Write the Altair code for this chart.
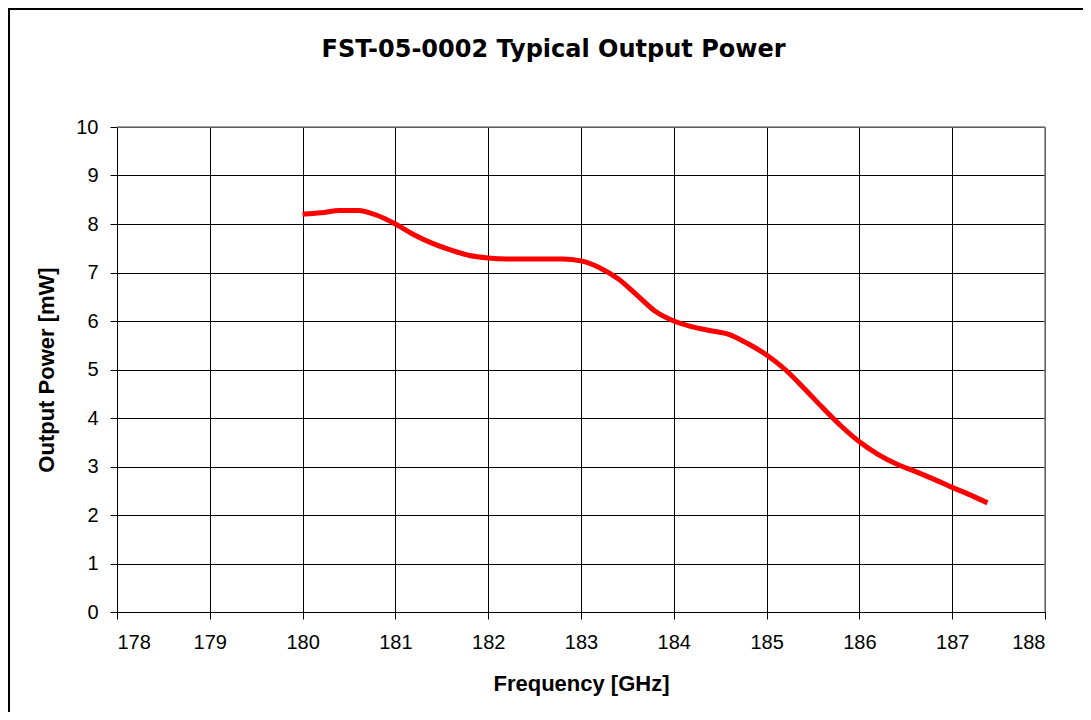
import altair as alt
import pandas as pd

# ---- data ----
FREQ_GHZ = [180.0, 180.2, 180.4, 180.6, 180.8, 181.0, 181.2, 181.4, 181.6, 181.8,
            182.0, 182.2, 182.4, 182.6, 182.8, 183.0, 183.2, 183.4, 183.6, 183.8,
            184.0, 184.2, 184.4, 184.6, 184.8, 185.0, 185.2, 185.4, 185.6, 185.8,
            186.0, 186.2, 186.4, 186.6, 186.8, 187.0, 187.2, 187.38]
POWER_MW = [8.20, 8.23, 8.28, 8.28, 8.18, 8.00, 7.78, 7.60, 7.46, 7.35,
            7.30, 7.28, 7.28, 7.28, 7.28, 7.24, 7.10, 6.87, 6.54, 6.20,
            6.00, 5.88, 5.80, 5.72, 5.53, 5.30, 5.00, 4.62, 4.22, 3.84,
            3.51, 3.25, 3.05, 2.90, 2.74, 2.57, 2.41, 2.25]

X_TICKS = [178, 179, 180, 181, 182, 183, 184, 185, 186, 187, 188]
Y_TICKS = [0, 1, 2, 3, 4, 5, 6, 7, 8, 9, 10]
TOP_BORDER = [10]
RIGHT_BORDER = [188]

TITLE = "FST-05-0002 Typical Output Power"
X_TITLE = "Frequency [GHz]"
Y_TITLE = "Output Power [mW]"

df = pd.DataFrame({"freq": FREQ_GHZ, "power": POWER_MW})

W, H = 928, 485

x_scale = alt.Scale(domain=[X_TICKS[0], X_TICKS[-1]], nice=False, zero=False)
y_scale = alt.Scale(domain=[Y_TICKS[0], Y_TICKS[-1]], nice=False, zero=True)

x_axis = alt.Axis(values=X_TICKS, title=X_TITLE, format="d", labelPadding=13,
                  titleX=W / 2, titleY=78, titleBaseline="alphabetic",
                  titleAlign="center")
y_axis = alt.Axis(values=Y_TICKS, title=Y_TITLE, format="d", labelPadding=12,
                  titleX=-64, titleY=H / 2, titleBaseline="alphabetic",
                  titleAlign="center", titleAngle=270)

line = alt.Chart(df).mark_line(color="#FF0000", strokeWidth=5,
                               interpolate="monotone").encode(
    x=alt.X("freq:Q", scale=x_scale, axis=x_axis),
    y=alt.Y("power:Q", scale=y_scale, axis=y_axis),
)

top_rule = alt.Chart(pd.DataFrame({"v": TOP_BORDER})).mark_rule(
    color="#808080", strokeWidth=1.5).encode(y=alt.Y("v:Q", scale=y_scale))
right_rule = alt.Chart(pd.DataFrame({"v": RIGHT_BORDER})).mark_rule(
    color="#808080", strokeWidth=1.5).encode(x=alt.X("v:Q", scale=x_scale))

# outer chart frame (only its left and top edges are inside the picture)
frame_left = alt.Chart(pd.DataFrame({"k": [0]})).mark_rule(
    color="black", strokeWidth=2).encode(
    x=alt.value(-108), y=alt.value(-119), y2=alt.value(600))
frame_top = alt.Chart(pd.DataFrame({"k": [0]})).mark_rule(
    color="black", strokeWidth=2).encode(
    y=alt.value(-118), x=alt.value(-109), x2=alt.value(966))

chart = alt.layer(frame_left, frame_top, top_rule, right_rule, line).properties(
    width=W, height=H,
    autosize=alt.AutoSizeParams(type="none"),
    padding={"left": 109, "top": 119, "right": 38, "bottom": 100},
    background="white",
    title=alt.TitleParams(text=TITLE, font="DejaVu Sans", fontSize=24,
                          fontWeight="bold", color="black", anchor="middle",
                          baseline="alphabetic", dx=-27.5, dy=73.5, offset=0),
).configure_view(stroke=None).configure_axis(
    labelFont="Liberation Sans", labelFontSize=20, labelColor="black",
    titleFont="Liberation Sans", titleFontSize=22, titleFontWeight="bold",
    titleColor="black", tickColor="black", tickSize=7, tickWidth=1,
    domainColor="black", domainWidth=1, gridColor="black", gridWidth=1,
    gridOpacity=1, grid=True,
)

chart.save("out.html", embed_options={"renderer": "svg", "actions": False})
